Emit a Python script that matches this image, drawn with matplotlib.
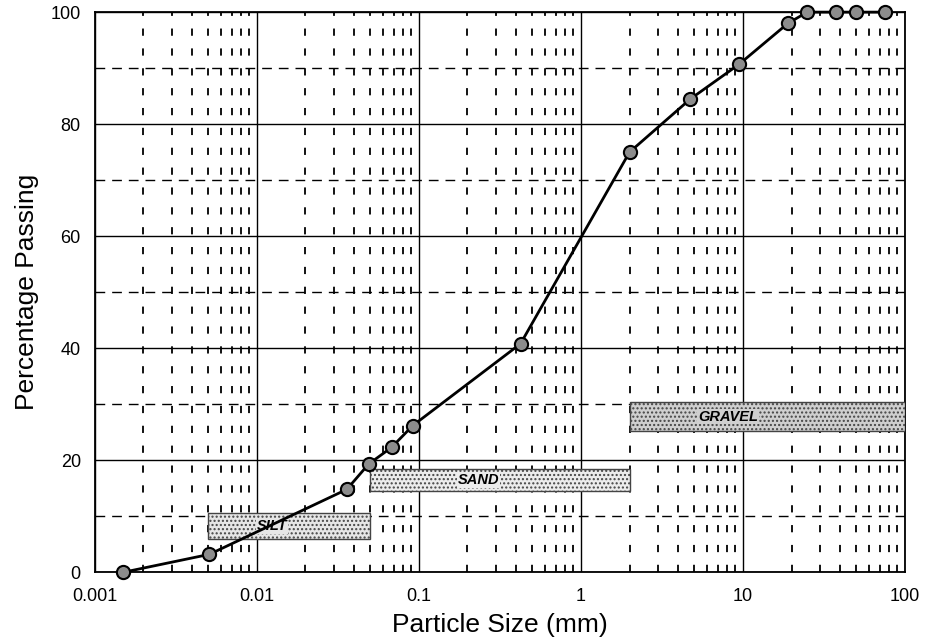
import numpy as np
import matplotlib
matplotlib.use("Agg")
import matplotlib.pyplot as plt
from matplotlib.patches import Rectangle

plt.rcParams["font.family"] = ["Liberation Sans", "DejaVu Sans"]

# grading curve read from the sheet
size_mm = [0.0015, 0.0051, 0.036, 0.049, 0.068, 0.092, 0.425,
           2.0, 4.75, 9.5, 19.0, 25.0, 37.5, 50.0, 75.0]
passing = [0.0, 3.2, 14.8, 19.3, 22.3, 26.2, 40.8,
           75.0, 84.5, 90.7, 98.0, 100.0, 100.0, 100.0, 100.0]

# soil class bands
band_names = ["SILT", "SAND", "GRAVEL"]
band_x0 = [0.005, 0.05, 2.0]
band_x1 = [0.05, 2.0, 100.0]
band_y0 = [6.0, 14.5, 25.2]
band_y1 = [10.5, 18.5, 30.4]
band_text_x = [0.0124, 0.235, 8.1]
band_face = ["#e6e6e6", "#ececec", "#cfcfcf"]

x_ticks = [0.001, 0.01, 0.1, 1, 10, 100]
x_tick_labels = ["0.001", "0.01", "0.1", "1", "10", "100"]
y_ticks = [0, 20, 40, 60, 80, 100]

fig = plt.figure(figsize=(9.28, 6.38), dpi=100)
ax = fig.add_axes([0.102, 0.103, 0.873, 0.878])

ax.set_xscale("log")
ax.set_xlim(0.001, 100)
ax.set_ylim(0, 100)

# grid: solid at decades / every 20 %, dashed in between
ax.set_xticks(x_ticks)
ax.set_xticklabels(x_tick_labels)
ax.set_yticks(y_ticks)
ax.set_yticks([10, 30, 50, 70, 90], minor=True)
ax.xaxis.set_minor_locator(matplotlib.ticker.LogLocator(base=10, subs=np.arange(2, 10)))
ax.xaxis.set_minor_formatter(matplotlib.ticker.NullFormatter())
ax.grid(True, which="major", color="black", linewidth=1.0, linestyle="-")
ax.grid(True, which="minor", axis="x", color="black", linewidth=1.3,
        linestyle=(0, (4, 7)))
ax.grid(True, which="minor", axis="y", color="black", linewidth=1.0,
        linestyle=(0, (7, 5)))
ax.set_axisbelow(True)

ax.tick_params(which="both", length=0)
ax.tick_params(axis="x", labelsize=13, pad=11)
ax.tick_params(axis="y", labelsize=13, pad=10)

for s in ax.spines.values():
    s.set_linewidth(1.3)
    s.set_color("black")

# class bands
for name, x0, x1, y0, y1, tx, fc in zip(band_names, band_x0, band_x1, band_y0,
                                         band_y1, band_text_x, band_face):
    ax.add_patch(Rectangle((x0, y0), x1 - x0, y1 - y0, facecolor=fc,
                           edgecolor="#444444", linewidth=1.0, hatch="....",
                           zorder=3))
    ax.text(tx, (y0 + y1) / 2, name, ha="center", va="center", fontsize=10.5,
            fontstyle="italic", fontweight="semibold", color="black", zorder=4,
            bbox=dict(facecolor=fc, edgecolor="none", pad=0.5))

# grading curve
ax.plot(size_mm, passing, color="black", linewidth=2.0, marker="o",
        markersize=9.5, markerfacecolor="#8c8c8c", markeredgecolor="black",
        markeredgewidth=1.5, zorder=5, clip_on=False)

ax.set_xlabel("Particle Size (mm)", fontsize=19, labelpad=6)
ax.set_ylabel("Percentage Passing", fontsize=19, labelpad=8)

fig.savefig("out.png", dpi=100)
